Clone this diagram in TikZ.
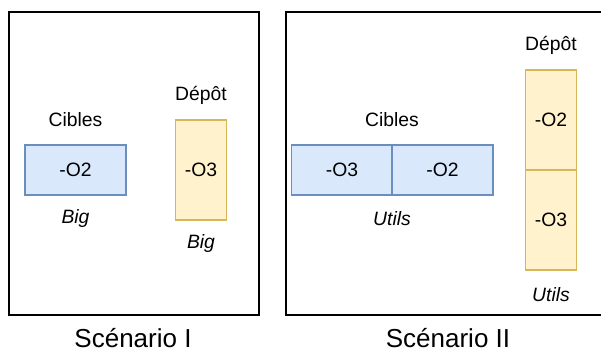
\documentclass[tikz,border=0pt]{standalone}
\usepackage{fontspec}
\setmainfont{Liberation Sans}
\usetikzlibrary{positioning}
\definecolor{ciblefill}{HTML}{DAE8FC}
\definecolor{cibledraw}{HTML}{6C8EBF}
\definecolor{depotfill}{HTML}{FFF2CC}
\definecolor{depotdraw}{HTML}{D6B656}
\newcommand{\lblfont}{\fontsize{11}{13}\selectfont}
\newcommand{\ttlfont}{\fontsize{14.8}{17}\selectfont}
\tikzset{
  scenframe/.style={draw, line width=0.85pt},
  ciblebox/.style={draw=cibledraw, fill=ciblefill, line width=0.7pt, minimum width=2.02cm, minimum height=1cm, inner sep=0pt, font=\lblfont},
  depotbox/.style={draw=depotdraw, fill=depotfill, line width=0.7pt, minimum width=1.02cm, minimum height=2cm, inner sep=0pt, font=\lblfont},
  lbl/.style={font=\lblfont, inner sep=0pt},
  tag/.style={font=\lblfont\itshape, inner sep=0pt},
  scentitle/.style={font=\ttlfont, inner sep=0pt},
}

\begin{document}
\begin{tikzpicture}[x=0.02cm, y=-0.02cm]
  \useasboundingbox (0,0) rectangle (601,351);
  \clip (0,0) rectangle (601,351);

  % Scenario I
  \draw[scenframe] (9,12) rectangle (259,315);
  \node[ciblebox] (c1) at (75.5,170) {-O2};
  \node[lbl] (c1lab) at (75.5,120) {Cibles};
  \node[tag] (c1tag) at (75.5,219) {Big};
  \node[depotbox] (d1) at (201,170) {-O3};
  \node[lbl] (d1lab) at (201,95) {Dépôt};
  \node[tag] (d1tag) at (201,244) {Big};
  \node[scentitle] (t1) at (133,338.5) {Scénario I};

  % Scenario II
  \draw[scenframe] (286,12) rectangle (604,315);
  \node[ciblebox] (c2a) at (342,170) {-O3};
  \node[ciblebox] (c2b) at (442.5,170) {-O2};
  \node[lbl] (c2lab) at (392,120) {Cibles};
  \node[tag] (c2tag) at (392,219) {Utils};
  \node[depotbox] (d2a) at (551,120) {-O2};
  \node[depotbox] (d2b) at (551,220) {-O3};
  \node[lbl] (d2lab) at (551,45) {Dépôt};
  \node[tag] (d2tag) at (551,295) {Utils};
  \node[scentitle] (t2) at (448,338.5) {Scénario II};
\end{tikzpicture}
\end{document}
